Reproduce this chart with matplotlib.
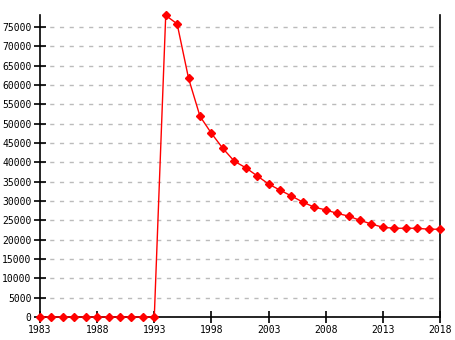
import matplotlib
matplotlib.use("Agg")
import matplotlib.pyplot as plt

years = list(range(1983, 2019))
population = [0, 0, 0, 0, 0, 0, 0, 0, 0, 0, 0,
              78000, 75800, 61700, 51900, 47500, 43600, 40300, 38600,
              36500, 34400, 32800, 31300, 29700, 28400, 27700, 26800,
              26100, 25000, 24050, 23200, 22950, 22950, 22950, 22700, 22700]
x_ticks = [1983, 1988, 1993, 1998, 2003, 2008, 2013, 2018]
y_ticks = list(range(0, 75001, 5000))

fig = plt.figure(figsize=(4.55, 3.4), dpi=100)
ax = fig.add_axes([40 / 455, 23 / 340, 400 / 455, 302 / 340])

ax.plot(years, population, color='red', linewidth=1, marker='D',
        markersize=4.5, clip_on=False, zorder=3)

ax.set_xlim(1983, 2018)
ax.set_ylim(0, 78100)
ax.set_xticks(x_ticks)
ax.set_yticks(y_ticks)

ax.grid(axis='y', color='#bbbbbb', linestyle=(0, (3, 4)), linewidth=1)
ax.set_axisbelow(True)

ax.spines['top'].set_visible(False)
for side in ['left', 'bottom', 'right']:
    ax.spines[side].set_linewidth(1.2)
    ax.spines[side].set_color('black')

ax.tick_params(direction='inout', length=8, width=1.2, labelsize=7, pad=2)
ax.tick_params(axis='y', right=False)
for lbl in ax.get_xticklabels() + ax.get_yticklabels():
    lbl.set_family('DejaVu Sans Mono')

fig.savefig('out.png', dpi=100)
